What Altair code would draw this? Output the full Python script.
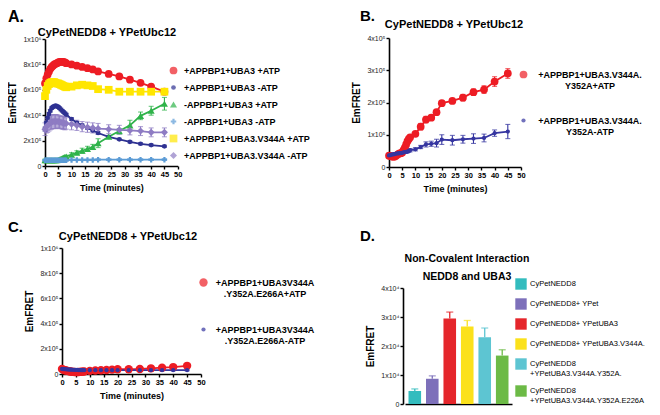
import altair as alt
import pandas as pd

FONT = "Liberation Sans, Arial, Helvetica, sans-serif"

TIME = [0, 0.5, 1, 1.5, 2, 2.5, 3, 3.5, 4, 4.5, 5, 5.5, 6, 6.5, 7, 7.5, 8,
        10, 12, 14, 16, 18, 20, 24, 28, 32, 36, 40, 45]
X_TICKS = [0, 5, 10, 15, 20, 25, 30, 35, 40, 45, 50]

# ---------------- Panel A (EmFRET in units of 1e5) ----------------
A_NAMES = ["+APPBP1+UBA3 +ATP", "+APPBP1+UBA3 -ATP", "-APPBP1+UBA3 +ATP",
           "-APPBP1+UBA3 -ATP", "+APPBP1+UBA3.V344A +ATP", "+APPBP1+UBA3.V344A -ATP"]
A_COLORS = ["#ed1c24", "#2e3192", "#2fb34a", "#5b9bd5", "#ffe600", "#8e7cc3"]
A_SHAPES = ["circle", "circle", "triangle-up", "cross", "square", "diamond"]
A_SIZES = [60, 22, 50, 30, 60, 50]

a_red = [6.5, 6.9, 7.2, 7.45, 7.65, 7.8, 7.9, 8.0, 8.05, 8.1, 8.15, 8.2, 8.2, 8.2, 8.2, 8.15, 8.1,
         8.0, 7.9, 7.8, 7.7, 7.6, 7.45, 7.25, 7.05, 6.8, 6.55, 6.25, 5.85]
a_red_err = [0.2, 0.2, 0.2, 0.15, 0.15, 0.15, 0.15, 0.15, 0.15, 0.15, 0.15, 0.15, 0.15, 0.15, 0.15, 0.15, 0.15,
             0.15, 0.15, 0.15, 0.15, 0.15, 0.15, 0.15, 0.15, 0.15, 0.15, 0.15, 0.2]
a_blue = [2.9, 3.4, 3.8, 4.1, 4.35, 4.55, 4.65, 4.7, 4.75, 4.7, 4.65, 4.55, 4.45, 4.35, 4.25, 4.15, 4.05,
          3.7, 3.4, 3.2, 3.0, 2.8, 2.6, 2.3, 2.1, 1.9, 1.75, 1.65, 1.55]
a_blue_err = [0.15, 0.1, 0.1, 0.1, 0.1, 0.1, 0.1, 0.1, 0.1, 0.1, 0.1, 0.1, 0.1, 0.1, 0.1, 0.1, 0.1,
              0.1, 0.1, 0.1, 0.1, 0.1, 0.1, 0.08, 0.08, 0.08, 0.08, 0.08, 0.08]
a_green = [0.45, 0.45, 0.45, 0.45, 0.45, 0.45, 0.45, 0.45, 0.45, 0.45, 0.47, 0.5, 0.55, 0.6, 0.65, 0.7, 0.75,
           0.9, 1.05, 1.2, 1.35, 1.5, 1.8, 2.3, 2.75, 3.2, 3.95, 4.35, 4.9]
a_green_err = [0.1, 0.1, 0.1, 0.1, 0.1, 0.1, 0.1, 0.1, 0.1, 0.1, 0.1, 0.1, 0.1, 0.1, 0.1, 0.1, 0.1,
               0.15, 0.15, 0.2, 0.2, 0.2, 0.35, 0.1, 0.2, 0.4, 0.3, 0.35, 0.5]
a_lblue = [0.45, 0.45, 0.45, 0.45, 0.45, 0.45, 0.45, 0.45, 0.45, 0.45, 0.45, 0.45, 0.45, 0.45, 0.45, 0.45, 0.45,
           0.48, 0.48, 0.48, 0.48, 0.48, 0.5, 0.5, 0.5, 0.5, 0.5, 0.5, 0.5]
a_lblue_err = [0.05, 0.05, 0.05, 0.05, 0.05, 0.05, 0.05, 0.05, 0.05, 0.05, 0.05, 0.05, 0.05, 0.05, 0.05, 0.05, 0.05,
               0.05, 0.05, 0.05, 0.05, 0.05, 0.05, 0.05, 0.05, 0.05, 0.05, 0.05, 0.05]
a_yellow = [5.5, 6.0, 6.3, 6.45, 6.55, 6.6, 6.6, 6.6, 6.55, 6.5, 6.5, 6.45, 6.4, 6.35, 6.3, 6.25, 6.2,
            6.25, 6.35, 6.4, 6.35, 6.3, 6.05, 6.0, 5.85, 5.85, 5.85, 5.85, 5.85]
a_yellow_err = [0.2, 0.2, 0.2, 0.2, 0.2, 0.2, 0.2, 0.2, 0.2, 0.2, 0.2, 0.2, 0.2, 0.2, 0.2, 0.2, 0.2,
                0.2, 0.2, 0.2, 0.2, 0.2, 0.2, 0.15, 0.15, 0.15, 0.15, 0.15, 0.15]
a_purple = [2.9, 3.1, 3.2, 3.3, 3.4, 3.45, 3.5, 3.5, 3.5, 3.5, 3.5, 3.45, 3.45, 3.4, 3.4, 3.35, 3.35,
            3.3, 3.2, 3.1, 3.05, 3.0, 2.95, 2.9, 2.85, 2.8, 2.75, 2.65, 2.65]
a_purple_err = [0.5, 0.5, 0.55, 0.55, 0.55, 0.55, 0.55, 0.55, 0.55, 0.55, 0.5, 0.5, 0.5, 0.5, 0.5, 0.5, 0.45,
                0.45, 0.4, 0.4, 0.4, 0.4, 0.4, 0.35, 0.35, 0.35, 0.35, 0.35, 0.35]
A_YTICKS = [0, 200000, 400000, 600000, 800000, 1000000]
A_YLABELS = ["0", "2x10⁵", "4x10⁵", "6x10⁵", "8x10⁵", "1x10⁶"]

# ---------------- Panel B (units of 1e5) ----------------
B_NAMES = ["+APPBP1+UBA3.V344A.\nY352A+ATP", "+APPBP1+UBA3.V344A.\nY352A-ATP"]
B_COLORS = ["#ed1c24", "#3535a0"]
B_SHAPES = ["circle", "circle"]
B_SIZES = [60, 18]
b_red = [0.35, 0.34, 0.33, 0.32, 0.32, 0.34, 0.37, 0.40, 0.42, 0.43, 0.45, 0.52, 0.60, 0.70, 0.80, 0.87, 0.92,
         1.03, 1.25, 1.47, 1.53, 1.70, 1.98, 2.05, 2.15, 2.32, 2.40, 2.65, 2.90]
b_red_err = [0.05, 0.05, 0.05, 0.05, 0.05, 0.05, 0.05, 0.05, 0.05, 0.05, 0.05, 0.05, 0.05, 0.05, 0.05, 0.05, 0.06,
             0.06, 0.1, 0.1, 0.07, 0.07, 0.07, 0.05, 0.1, 0.1, 0.12, 0.15, 0.15]
b_blue = [0.36, 0.37, 0.38, 0.39, 0.40, 0.41, 0.42, 0.42, 0.43, 0.43, 0.44, 0.45, 0.46, 0.47, 0.48, 0.50, 0.52,
          0.55, 0.62, 0.70, 0.72, 0.74, 0.85, 0.83, 0.86, 0.88, 0.90, 1.05, 1.10]
b_blue_err = [0.03, 0.03, 0.03, 0.03, 0.03, 0.03, 0.03, 0.03, 0.03, 0.03, 0.03, 0.03, 0.04, 0.04, 0.04, 0.04, 0.05,
              0.05, 0.05, 0.08, 0.08, 0.12, 0.15, 0.15, 0.12, 0.15, 0.12, 0.1, 0.22]
B_YTICKS = [0, 100000, 200000, 300000, 400000]
B_YLABELS = ["0", "1x10⁵", "2x10⁵", "3x10⁵", "4x10⁵"]

# ---------------- Panel C (units of 1e5) ----------------
C_NAMES = ["+APPBP1+UBA3V344A\n.Y352A.E266A+ATP", "+APPBP1+UBA3V344A\n.Y352A.E266A-ATP"]
C_COLORS = ["#ed1c24", "#3535a0"]
C_SHAPES = ["circle", "circle"]
C_SIZES = [70, 18]
c_red = [0.4, 0.35, 0.3, 0.28, 0.25, 0.22, 0.2, 0.18, 0.17, 0.16, 0.15, 0.15, 0.16, 0.17, 0.18, 0.19, 0.2,
         0.25, 0.28, 0.3, 0.32, 0.35, 0.38, 0.38, 0.4, 0.45, 0.5, 0.55, 0.65]
c_red_err = [0.08, 0.08, 0.08, 0.08, 0.08, 0.08, 0.08, 0.08, 0.08, 0.08, 0.08, 0.08, 0.08, 0.08, 0.08, 0.08, 0.08,
             0.08, 0.08, 0.08, 0.08, 0.08, 0.08, 0.08, 0.1, 0.1, 0.1, 0.12, 0.15]
c_blue = [0.4, 0.39, 0.38, 0.37, 0.36, 0.35, 0.34, 0.34, 0.33, 0.33, 0.32, 0.32, 0.31, 0.31, 0.3, 0.3, 0.3,
          0.3, 0.3, 0.3, 0.3, 0.3, 0.3, 0.3, 0.3, 0.3, 0.3, 0.3, 0.3]
c_blue_err = [0.05, 0.05, 0.05, 0.05, 0.05, 0.05, 0.05, 0.05, 0.05, 0.05, 0.05, 0.05, 0.05, 0.05, 0.05, 0.05, 0.05,
              0.05, 0.05, 0.05, 0.05, 0.05, 0.05, 0.05, 0.05, 0.05, 0.05, 0.05, 0.05]

# ---------------- Panel D (units of 1e4) ----------------
D_NAMES = ["CyPetNEDD8", "CyPetNEDD8+ YPet", "CyPetNEDD8+ YPetUBA3", "CyPetNEDD8+ YPetUBA3.V344A.",
           "CyPetNEDD8\n+YPetUBA3.V344A.Y352A.", "CyPetNEDD8\n+YPetUBA3.V344A.Y352A.E226A"]
D_COLORS = ["#33bcbe", "#7d70ba", "#e5262b", "#fbe11b", "#5dc5d2", "#6cba46"]
d_vals = [0.45, 0.87, 2.95, 2.67, 2.30, 1.67]
d_err = [0.07, 0.10, 0.22, 0.21, 0.32, 0.20]
D_YTICKS = [0, 10000, 20000, 30000, 40000]
D_YLABELS = ["0", "1x10⁴", "2x10⁴", "3x10⁴", "4x10⁴"]

TITLE_LINE = "CyPetNEDD8 + YPetUbc12"
TITLE_D = "Non-Covalent Interaction\nNEDD8 and UBA3"
PANEL_LABELS = ["A.", "B.", "C.", "D."]
Y_TITLE = "EmFRET"
X_TITLE = "Time (minutes)"

W, H = 644, 399


def long_df(names, values, errors, unit):
    rows = []
    for n, vals, errs in zip(names, values, errors):
        for t, v, e in zip(TIME, vals, errs):
            rows.append({"s": n, "t": t, "v": v * unit, "lo": (v - e) * unit, "hi": (v + e) * unit})
    return pd.DataFrame(rows)


def label_expr(values, labels):
    parts = [f"abs(datum.value - {v}) < 0.5 ? '{l}'" for v, l in zip(values, labels)]
    return " : ".join(parts) + " : ''"


def y_axis(offset, ticks, labels):
    return alt.Axis(orient="left", offset=offset, values=ticks, labelExpr=label_expr(ticks, labels),
                    title=Y_TITLE, grid=False, domainColor="black", domainWidth=1.6,
                    tickColor="black", tickWidth=1.4, tickSize=3, labelFont=FONT, labelFontSize=7,
                    labelColor="#222", labelPadding=1, titleFont=FONT, titleFontSize=10,
                    titleFontWeight="bold", titleColor="black", titlePadding=5)


def x_axis(offset):
    return alt.Axis(orient="bottom", offset=offset, values=X_TICKS, title=X_TITLE, grid=False,
                    domainColor="black", domainWidth=1.6, tickColor="black", tickWidth=1.4, tickSize=3,
                    labelFont=FONT, labelFontSize=7.5, labelFontWeight="bold", labelColor="black",
                    labelFlush=False, labelOverlap=False, labelPadding=1, titleFont=FONT,
                    titleFontSize=9, titleFontWeight="bold", titleColor="black", titlePadding=6)


def line_panel(df, names, colors, shapes, sizes, xrange, yrange, ydomain, yticks, ylabels,
               yoff, xoff, legend):
    xs = alt.Scale(domain=[0, 50], range=xrange, nice=False, zero=False)
    ys = alt.Scale(domain=ydomain, range=yrange, nice=False, zero=False)
    xa = x_axis(xoff)
    ya = y_axis(yoff, yticks, ylabels)
    X = alt.X("t:Q", scale=xs, axis=xa)
    cs = alt.Scale(domain=names, range=colors)
    base = alt.Chart(df)
    col = alt.Color("s:N", scale=cs, legend=legend)
    err = base.mark_rule(strokeWidth=1.1).encode(
        x=X, y=alt.Y("lo:Q", scale=ys, axis=ya), y2="hi:Q", color=col)
    cap_lo = base.mark_tick(orient="horizontal", size=5, thickness=1.1).encode(
        x=X, y=alt.Y("lo:Q", scale=ys, axis=ya), color=col)
    cap_hi = base.mark_tick(orient="horizontal", size=5, thickness=1.1).encode(
        x=X, y=alt.Y("hi:Q", scale=ys, axis=ya), color=col)
    line = base.mark_line(strokeWidth=1.8).encode(
        x=X, y=alt.Y("v:Q", scale=ys, axis=ya), color=col)
    pts = base.mark_point(filled=True, opacity=1).encode(
        x=X, y=alt.Y("v:Q", scale=ys, axis=ya),
        color=col,
        shape=alt.Shape("s:N", scale=alt.Scale(domain=names, range=shapes), legend=legend),
        size=alt.Size("s:N", scale=alt.Scale(type="ordinal", domain=names, range=sizes), legend=None))
    return alt.layer(err, cap_lo, cap_hi, line, pts)


def text_at(s, x, y, size, weight="bold", align="center", baseline="middle", lh=18):
    return alt.Chart(pd.DataFrame({"txt": [s]})).mark_text(
        font=FONT, fontSize=size, fontWeight=weight, align=align, baseline=baseline,
        color="black", lineBreak="\n", lineHeight=lh).encode(
        text="txt:N", x=alt.value(x), y=alt.value(y))


# ---- Panel A ----
dfA = long_df(A_NAMES, [a_red, a_blue, a_green, a_lblue, a_yellow, a_purple],
              [a_red_err, a_blue_err, a_green_err, a_lblue_err, a_yellow_err, a_purple_err], 1e5)
legA = alt.Legend(orient="none", legendX=161, legendY=58, title=None, padding=0,
                  labelFont=FONT, labelFontSize=9, labelFontWeight="bold", labelColor="black",
                  labelOffset=6, labelLimit=300, rowPadding=7, symbolSize=45, symbolStrokeWidth=0)
panelA = line_panel(dfA, A_NAMES, A_COLORS, A_SHAPES, A_SIZES, [37, 169.7], [158, 31], [0, 1e6],
                    A_YTICKS, A_YLABELS, -37, 158 - H, legA)

# ---- Panel B ----
dfB = long_df(B_NAMES, [b_red, b_blue], [b_red_err, b_blue_err], 1e5)
legB = alt.Legend(orient="none", legendX=511, legendY=62, title=None, padding=0,
                  labelFont=FONT, labelFontSize=9, labelFontWeight="bold", labelColor="black",
                  labelOffset=62, labelAlign="center", labelLimit=300, rowPadding=25,
                  symbolSize=50, symbolStrokeWidth=0, labelExpr="split(datum.label, '\\n')")
panelB = line_panel(dfB, B_NAMES, B_COLORS, B_SHAPES, B_SIZES, [381, 513], [159, 30], [0, 4e5],
                    B_YTICKS, B_YLABELS, -381, 159 - H, legB)

# ---- Panel C ----
dfC = long_df(C_NAMES, [c_red, c_blue], [c_red_err, c_blue_err], 1e5)
legC = alt.Legend(orient="none", legendX=191, legendY=270, title=None, padding=0,
                  labelFont=FONT, labelFontSize=9, labelFontWeight="bold", labelColor="black",
                  labelOffset=57, labelAlign="center", labelLimit=300, rowPadding=26,
                  symbolSize=50, symbolStrokeWidth=0, labelExpr="split(datum.label, '\\n')")
panelC = line_panel(dfC, C_NAMES, C_COLORS, C_SHAPES, C_SIZES, [54, 193], [366, 240], [0, 1e6],
                    A_YTICKS, A_YLABELS, -54, 366 - H, legC)

# ---- Panel D ----
dfD = pd.DataFrame({"c": D_NAMES, "v": [v * 1e4 for v in d_vals],
                    "hi": [(v + e) * 1e4 for v, e in zip(d_vals, d_err)]})
D_ZERO, D_TOP = 396, 280
xsD = alt.Scale(domain=D_NAMES, range=[397, 504], paddingInner=0.28, paddingOuter=0.2)
xaD = alt.Axis(orient="bottom", offset=D_ZERO - H, labels=False, ticks=False, title=None, grid=False,
               domainColor="black", domainWidth=1.6)
ysD = alt.Scale(domain=[0, 40000], range=[D_ZERO, D_TOP], nice=False, zero=False)
yaD = y_axis(-395, D_YTICKS, D_YLABELS)
csD = alt.Scale(domain=D_NAMES, range=D_COLORS)
XD = alt.X("c:N", scale=xsD, axis=xaD, sort=None)
legD = alt.Legend(orient="none", legendX=507, legendY=270, title=None, padding=0,
                  labelFont=FONT, labelFontSize=7.5, labelFontWeight="normal", labelColor="black",
                  labelOffset=3, labelLimit=300, rowPadding=8, symbolType="square", symbolSize=130,
                  symbolStrokeWidth=0, labelExpr="split(datum.label, '\\n')")
baseD = alt.Chart(dfD)
barsD = baseD.mark_bar().encode(x=XD, y=alt.Y("v:Q", scale=ysD, axis=yaD),
                                color=alt.Color("c:N", scale=csD, legend=legD))
errD = baseD.mark_rule(strokeWidth=1.3).encode(x=XD, y=alt.Y("v:Q", scale=ysD, axis=yaD), y2="hi:Q",
                                              color=alt.Color("c:N", scale=csD, legend=None))
capD = baseD.mark_tick(orient="horizontal", size=7, thickness=1.3).encode(
    x=XD, y=alt.Y("hi:Q", scale=ysD, axis=yaD), color=alt.Color("c:N", scale=csD, legend=None))
panelD = alt.layer(barsD, errD, capD)

texts = [
    text_at(PANEL_LABELS[0], 0, 1, 16, align="left", baseline="top"),
    text_at(PANEL_LABELS[1], 352, 1, 15, align="left", baseline="top"),
    text_at(PANEL_LABELS[2], 0, 212, 15, align="left", baseline="top"),
    text_at(PANEL_LABELS[3], 352, 221, 15, align="left", baseline="top"),
    text_at(TITLE_LINE, 99, 25, 11),
    text_at(TITLE_LINE, 446, 17, 11),
    text_at(TITLE_LINE, 120, 229, 11),
    text_at(TITLE_D, 459, 251, 10.5),
]

chart = alt.layer(panelA, panelB, panelC, panelD, *texts).resolve_scale(
    x="independent", y="independent", color="independent", shape="independent", size="independent"
).properties(width=W, height=H, autosize=alt.AutoSizeParams(type="none"), padding=0
).configure_view(stroke=None)

chart.save("out.html", embed_options={"renderer": "svg", "actions": False})
